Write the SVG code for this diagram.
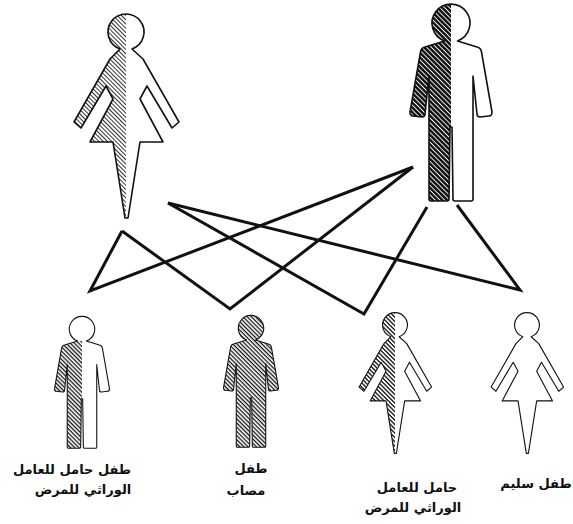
<svg xmlns="http://www.w3.org/2000/svg" width="573" height="524" viewBox="0 0 573 524">
  <style>
    .blank { fill: #fff; }
    .outline { fill: none; stroke: #111; stroke-width: 1.6; stroke-linejoin: round; vector-effect: non-scaling-stroke; }
    .link { fill: none; stroke: #111; stroke-width: 3; stroke-linejoin: miter; stroke-linecap: butt; }
    .label { font-family: "DejaVu Sans", sans-serif; font-weight: bold; font-size: 13px; fill: #111; text-anchor: middle; direction: rtl; }
  </style>
  <defs>
    <!-- female figure, head centre at origin -->
    <path id="woman" d="M6,17 L17,27 L53,90 L46,96 L21,54 L14,67 L37,110 L14,110 L2,186 L-1,186 L-13,110 L-36,110 L-13,67 L-20,54 L-45,96 L-52,90 L-16,27 L-6,17 A18,18 0 1 1 6,17 Z"/>
    <!-- male figure, head centre at origin -->
    <path id="man" d="M6.5,18 L26,24 Q30,25 30.5,29 L41,89 Q41,93 38,93 L29,94 Q26,94 26,91 L22,53 L22,104 L22,176 Q22,178 20,178 L4,178 Q2,178 2,176 L1,104 L-1,104 L-2,176 Q-2,178 -4,178 L-20,178 Q-22,178 -22,176 L-22,104 L-22,53 L-26,91 Q-26,94 -29,94 L-38,93 Q-41,93 -41,89 L-30.5,29 Q-30,25 -26,24 L-6.5,18 A19,19 0 1 1 6.5,18 Z"/>

    <pattern id="hatch" patternUnits="userSpaceOnUse" width="4.4" height="4.4" patternTransform="rotate(45)">
      <rect width="4.4" height="4.4" fill="#fff"/>
      <rect width="4.4" height="1.9" fill="#111"/>
    </pattern>
    <pattern id="hatch-light" patternUnits="userSpaceOnUse" width="3" height="3" patternTransform="rotate(45)">
      <rect width="3" height="3" fill="#fff"/>
      <rect width="3" height="1" fill="#333"/>
    </pattern>
    <pattern id="hatch-dark" patternUnits="userSpaceOnUse" width="3.4" height="3.4" patternTransform="rotate(45)">
      <rect width="3.4" height="3.4" fill="#111"/>
      <rect width="3.4" height="0.9" fill="#fff"/>
    </pattern>

    <clipPath id="left-half"><rect x="-70" y="-30" width="70" height="230"/></clipPath>
    <clipPath id="left-body"><rect x="-70" y="18" width="70" height="200"/></clipPath>
  </defs>

  <!-- parents -->
  <g id="mother" transform="translate(126,32)">
    <use href="#woman" class="blank"/>
    <use href="#woman" fill="url(#hatch-light)" clip-path="url(#left-half)"/>
    <use href="#woman" class="outline"/>
  </g>
  <g id="father" transform="translate(451,23)">
    <use href="#man" class="blank"/>
    <use href="#man" fill="url(#hatch-dark)" clip-path="url(#left-half)"/>
    <use href="#man" class="outline"/>
  </g>

  <!-- children -->
  <g id="son-carrier" transform="translate(82,329) scale(0.67)">
    <use href="#man" class="blank"/>
    <use href="#man" fill="url(#hatch)" clip-path="url(#left-body)"/>
    <use href="#man" class="outline"/>
  </g>
  <g id="son-affected" transform="translate(251,328) scale(0.67)">
    <use href="#man" fill="url(#hatch)"/>
    <use href="#man" class="outline"/>
  </g>
  <g id="daughter-carrier" transform="translate(395,325) scale(0.69)">
    <use href="#woman" class="blank"/>
    <use href="#woman" fill="url(#hatch)" clip-path="url(#left-half)"/>
    <use href="#woman" class="outline"/>
  </g>
  <g id="daughter-healthy" transform="translate(527,325) scale(0.69)">
    <use href="#woman" class="blank"/>
    <use href="#woman" class="outline"/>
  </g>

  <!-- inheritance lines: each child joined to both parents -->
  <g id="connectors">
    <path class="link" d="M122,231 L90,291 L413,167"/>
    <path class="link" d="M122,231 L230,309 L413,167"/>
    <path class="link" d="M168,203 L364,314 L427,207"/>
    <path class="link" d="M168,203 L520,290 L457,205"/>
  </g>

  <!-- captions -->
  <g id="labels">
    <text class="label" x="72" y="474">طفل حامل للعامل</text>
    <text class="label" x="83" y="494">الوراثي للمرض</text>
    <text class="label" x="251" y="473">طفل</text>
    <text class="label" x="246" y="495">مصاب</text>
    <text class="label" x="417" y="492">حامل للعامل</text>
    <text class="label" x="413" y="512">الوراثي للمرض</text>
    <text class="label" x="536" y="488">طفل سليم</text>
  </g>
</svg>
